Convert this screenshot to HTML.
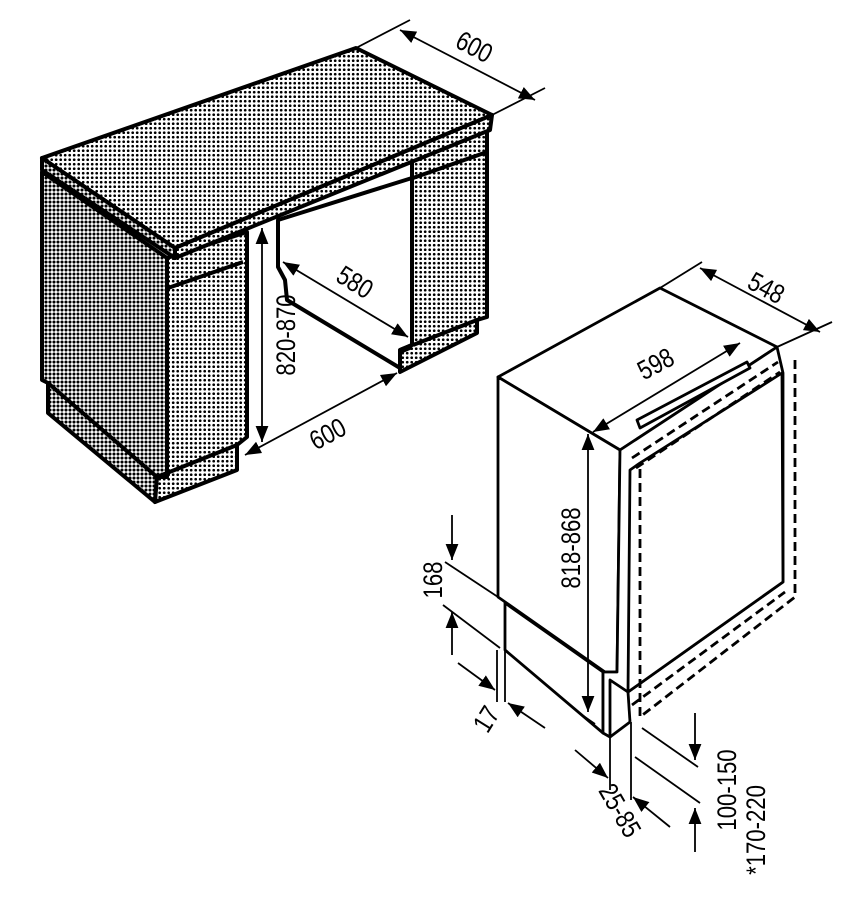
<!DOCTYPE html>
<html><head><meta charset="utf-8"><style>
html,body{margin:0;padding:0;background:#fff;}
svg{display:block;}
text{font-family:"Liberation Sans",sans-serif;font-size:27px;fill:#000;}
</style></head><body>
<svg width="857" height="900" viewBox="0 0 857 900" xmlns="http://www.w3.org/2000/svg">
<defs>
<pattern id="d" width="4.5" height="4.5" patternUnits="userSpaceOnUse"><rect width="5" height="5" fill="#fff"/><circle cx="2.2" cy="2.2" r="1.35" fill="#000"/></pattern>
<pattern id="d2" width="4" height="4" patternUnits="userSpaceOnUse"><rect width="4" height="4" fill="#fff"/><circle cx="2" cy="2" r="1.55" fill="#000"/></pattern>
<marker id="a" viewBox="0 0 10 10" refX="10" refY="5" markerWidth="16" markerHeight="16" markerUnits="userSpaceOnUse" orient="auto-start-reverse"><path d="M0,1 L10,5 L0,9 z" fill="#000"/></marker>
</defs>
<g stroke="#000" stroke-width="4" stroke-linejoin="round">
<polygon points="278,220 412,178 412,345 400,350 400,368 287,300 285,280 278,267" fill="#fff"/>
<polygon points="412,160 487,130 487,317 477,320 477,333 400,372 400,350 412,345" fill="url(#d)"/>
<line x1="413" y1="178" x2="487" y2="152"/>
<line x1="413" y1="345" x2="477" y2="320"/>
<line x1="400" y1="352" x2="412" y2="347"/>
<polygon points="42,172 167,258 167,477 157,477 155,502 48,413 48,383 42,380" fill="url(#d2)"/>
<line x1="48" y1="383" x2="157" y2="477"/>
<polygon points="167,258 247,232 247,437 237,445 237,470 155,502 157,477 167,477" fill="url(#d)"/>
<line x1="168" y1="288" x2="243" y2="262"/>
<line x1="157" y1="477" x2="237" y2="445"/>
<polygon points="42,158 356,48 492,115 175,248" fill="url(#d)"/>
<polygon points="42,158 175,248 175,258 42,170" fill="url(#d2)"/>
<polygon points="175,248 492,115 490,130 175,258" fill="url(#d)"/>
</g>
<g stroke="#000" stroke-width="1.8" fill="none">
<line x1="262" y1="228" x2="262" y2="442" marker-start="url(#a)" marker-end="url(#a)"/>
<line x1="245" y1="455" x2="397" y2="373" marker-start="url(#a)" marker-end="url(#a)"/>
<line x1="283" y1="262" x2="408" y2="337" marker-start="url(#a)" marker-end="url(#a)"/>
<line x1="356" y1="48" x2="410" y2="20"/>
<line x1="492" y1="115" x2="545" y2="88"/>
<line x1="400" y1="30" x2="535" y2="100" marker-start="url(#a)" marker-end="url(#a)"/>
</g>
<text transform="translate(295,335) rotate(-90) scale(0.82,1)" text-anchor="middle">820-870</text>
<text transform="translate(332,442) rotate(-28) scale(0.82,1)" text-anchor="middle">600</text>
<text transform="translate(350,290) rotate(32) scale(0.82,1)" text-anchor="middle">580</text>
<text transform="translate(470,55) rotate(28) scale(0.82,1)" text-anchor="middle">600</text>
<g stroke="#000" stroke-width="2.8" fill="#fff" stroke-linejoin="round">
<polygon points="498,377 660,288 777,347 620,450"/>
<polygon points="498,377 620,450 617,672 605,672 498,597"/>
<polygon points="505,603 603,672 603,733 505,650"/>
<polygon points="620,450 777,347 783,373 783,582 628,692 610,680 610,737 603,733 603,672 617,672"/>
<polygon points="640,463 782,373 783,582 628,692 630,470"/>
<polygon points="637,420 747,362 750,368 640,428"/>
<line x1="610" y1="737" x2="630" y2="722"/>
<line x1="630" y1="722" x2="628" y2="692"/>
</g>
<g stroke="#000" stroke-width="2.8" fill="none" stroke-dasharray="9,5">
<polyline points="795,360 795,597 640,717 640,465"/>
<line x1="632" y1="458" x2="778" y2="362"/>
<line x1="636" y1="468" x2="780" y2="372"/>
<line x1="632" y1="705" x2="785" y2="592"/>
</g>
<g stroke="#000" stroke-width="1.8" fill="none">
<line x1="660" y1="288" x2="702" y2="262"/>
<line x1="777" y1="347" x2="832" y2="322"/>
<line x1="700" y1="268" x2="820" y2="332" marker-start="url(#a)" marker-end="url(#a)"/>
<line x1="593" y1="432" x2="740" y2="343" marker-start="url(#a)" marker-end="url(#a)"/>
<line x1="588" y1="434" x2="588" y2="712" marker-start="url(#a)" marker-end="url(#a)"/>
<line x1="582" y1="715" x2="595" y2="724"/>
<line x1="445" y1="562" x2="498" y2="597"/>
<line x1="443" y1="605" x2="500" y2="648"/>
<line x1="452" y1="515" x2="452" y2="560" marker-end="url(#a)"/>
<line x1="452" y1="655" x2="452" y2="612" marker-end="url(#a)"/>
<line x1="497" y1="650" x2="497" y2="702"/>
<line x1="505" y1="650" x2="505" y2="702"/>
<line x1="458" y1="663" x2="495" y2="690" marker-end="url(#a)"/>
<line x1="545" y1="728" x2="508" y2="703" marker-end="url(#a)"/>
<line x1="610" y1="737" x2="610" y2="790"/>
<line x1="631" y1="722" x2="631" y2="800"/>
<line x1="575" y1="750" x2="608" y2="778" marker-end="url(#a)"/>
<line x1="670" y1="827" x2="633" y2="797" marker-end="url(#a)"/>
<line x1="642" y1="728" x2="698" y2="767"/>
<line x1="635" y1="757" x2="700" y2="803"/>
<line x1="695" y1="713" x2="695" y2="760" marker-end="url(#a)"/>
<line x1="695" y1="852" x2="695" y2="808" marker-end="url(#a)"/>
</g>
<text transform="translate(762,296) rotate(28) scale(0.82,1)" text-anchor="middle">548</text>
<text transform="translate(660,372) rotate(-28) scale(0.82,1)" text-anchor="middle">598</text>
<text transform="translate(580,548) rotate(-90) scale(0.82,1)" text-anchor="middle">818-868</text>
<text transform="translate(442,580) rotate(-90) scale(0.82,1)" text-anchor="middle">168</text>
<text transform="translate(494,724) rotate(-58) scale(0.82,1)" text-anchor="middle">17</text>
<text transform="translate(612,815) rotate(60) scale(0.82,1)" text-anchor="middle">25-85</text>
<text transform="translate(736,790) rotate(-90) scale(0.82,1)" text-anchor="middle">100-150</text>
<text transform="translate(765,830) rotate(-90) scale(0.82,1)" text-anchor="middle">*170-220</text>
</svg>
</body></html>
